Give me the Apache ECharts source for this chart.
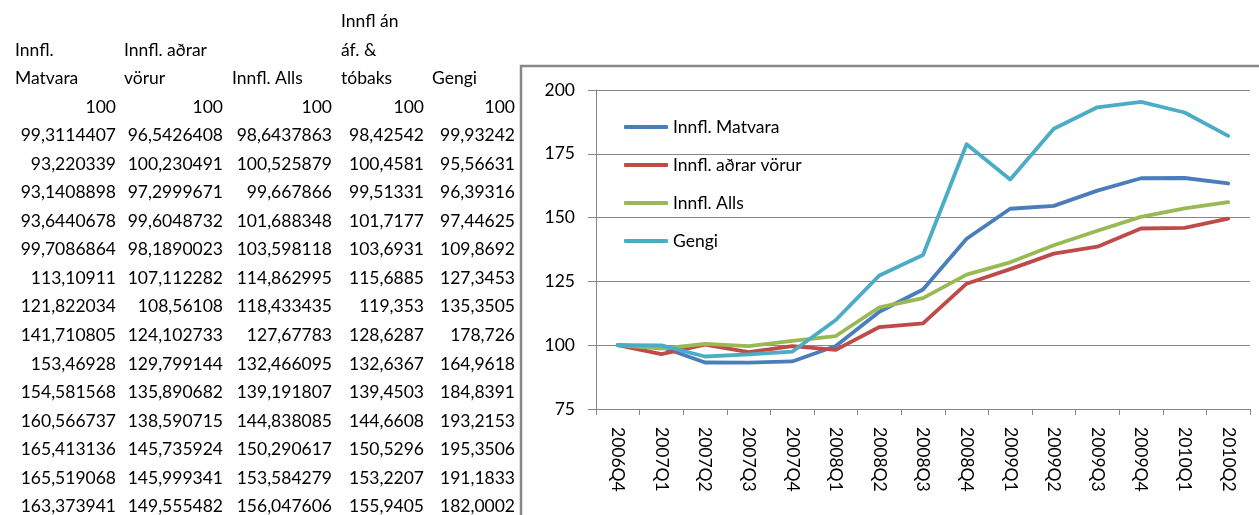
<!DOCTYPE html>
<html>
<head>
<meta charset="utf-8">
<script src="https://cdn.jsdelivr.net/npm/echarts@6/dist/echarts.min.js"></script>
<style>
html,body{margin:0;padding:0;background:#fff;}
#c{width:1259px;height:515px;}
</style>
</head>
<body>
<div id="c"></div>
<script>
// ---- data ----
var categories = ['2006Q4','2007Q1','2007Q2','2007Q3','2007Q4','2008Q1','2008Q2','2008Q3','2008Q4','2009Q1','2009Q2','2009Q3','2009Q4','2010Q1','2010Q2'];
var matvara = [100, 99.3114407, 93.220339, 93.1408898, 93.6440678, 99.7086864, 113.10911, 121.822034, 141.710805, 153.46928, 154.581568, 160.566737, 165.413136, 165.519068, 163.373941];
var adrarVorur = [100, 96.5426408, 100.230491, 97.2999671, 99.6048732, 98.1890023, 107.112282, 108.56108, 124.102733, 129.799144, 135.890682, 138.590715, 145.735924, 145.999341, 149.555482];
var alls = [100, 98.6437863, 100.525879, 99.667866, 101.688348, 103.598118, 114.862995, 118.433435, 127.67783, 132.466095, 139.191807, 144.838085, 150.290617, 153.584279, 156.047606];
var anAfTobaks = [100, 98.42542, 100.4581, 99.51331, 101.7177, 103.6931, 115.6885, 119.353, 128.6287, 132.6367, 139.4503, 144.6608, 150.5296, 153.2207, 155.9405];
var gengi = [100, 99.93242, 95.56631, 96.39316, 97.44625, 109.8692, 127.3453, 135.3505, 178.726, 164.9618, 184.8391, 193.2153, 195.3506, 191.1833, 182.0002];
var seriesNames = ['Innfl. Matvara', 'Innfl. aðrar vörur', 'Innfl. Alls', 'Gengi'];
var tableHeaders = [['Innfl.', 'Matvara'], ['Innfl. aðrar', 'vörur'], ['Innfl. Alls'], ['Innfl án', 'áf. &', 'tóbaks'], ['Gengi']];
var tableColumns = [matvara, adrarVorur, alls, anAfTobaks, gengi];
var yTicks = {min: 75, max: 200, interval: 25};

// ---- layout / style ----
var FONT_FAMILY = 'Lato';
var FONT_SIZE = 17.5;
var FONT = FONT_SIZE + 'px ' + FONT_FAMILY;
var colors = ['#4A7EBB', '#BE4B48', '#98B954', '#4BACC6'];
var colRight = [116, 223, 332, 424, 515];
var colLeft = [15, 124, 232, 341, 432];
var firstRowY = 107, rowH = 28.55;

function fmt(v){ return String(v).replace('.', ','); }

var graphics = [];
// table header
tableHeaders.forEach(function(lines, c){
  var n = lines.length;
  lines.forEach(function(t, k){
    graphics.push({
      type: 'text', silent: true,
      style: {text: t, x: colLeft[c], y: firstRowY - rowH * (n - k), font: FONT, fill: '#000',
              textAlign: 'left', textVerticalAlign: 'middle'}
    });
  });
});
// table body
tableColumns.forEach(function(col, c){
  col.forEach(function(v, r){
    graphics.push({
      type: 'text', silent: true,
      style: {text: fmt(v), x: colRight[c], y: firstRowY + rowH * r, font: FONT, fill: '#000',
              textAlign: 'right', textVerticalAlign: 'middle'}
    });
  });
});
// chart border
graphics.push({
  type: 'rect', silent: true, z: -1,
  shape: {x: 521, y: 66, width: 800, height: 500},
  style: {fill: '#fff', stroke: '#878787', lineWidth: 2.5}
});

var seriesData = [matvara, adrarVorur, alls, gengi];

var chart = echarts.init(document.getElementById('c'), null, {renderer: 'canvas'});
chart.setOption({
  animation: false,
  backgroundColor: '#fff',
  color: colors,
  textStyle: {fontFamily: FONT_FAMILY},
  graphic: graphics,
  grid: {left: 596, right: 9, top: 90, bottom: 106, containLabel: false},
  legend: {
    orient: 'vertical', left: 624, top: 117, padding: 0,
    icon: 'roundRect', itemWidth: 44, itemHeight: 4, itemGap: 18,
    textStyle: {fontSize: FONT_SIZE, color: '#000', fontFamily: FONT_FAMILY, lineHeight: 20},
    data: seriesNames
  },
  xAxis: {
    type: 'category', data: categories, boundaryGap: true,
    axisLine: {lineStyle: {color: '#868686', width: 1}},
    axisTick: {show: true, length: 6, interval: 0, lineStyle: {color: '#868686'}},
    axisLabel: {rotate: -90, interval: 0, margin: 18, fontSize: FONT_SIZE, color: '#000', fontFamily: FONT_FAMILY},
    splitLine: {show: false}
  },
  yAxis: {
    type: 'value', min: yTicks.min, max: yTicks.max, interval: yTicks.interval,
    axisLine: {show: true, lineStyle: {color: '#868686', width: 1}},
    axisTick: {show: true, length: 8, lineStyle: {color: '#868686'}},
    axisLabel: {margin: 21, fontSize: FONT_SIZE, color: '#000', fontFamily: FONT_FAMILY},
    splitLine: {show: true, lineStyle: {color: '#868686', width: 1}}
  },
  series: seriesNames.map(function(name, i){
    return {
      name: name, type: 'line', data: seriesData[i],
      showSymbol: false, symbol: 'none',
      lineStyle: {width: 3.8, color: colors[i], cap: 'round', join: 'round'},
      itemStyle: {color: colors[i]}
    };
  })
});
</script>
</body>
</html>
